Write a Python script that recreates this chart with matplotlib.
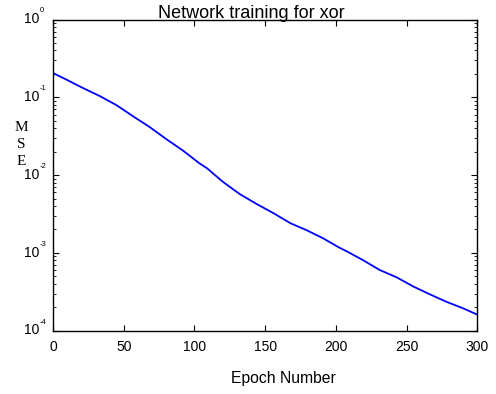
import matplotlib
matplotlib.use("Agg")
import matplotlib.pyplot as plt
from matplotlib.ticker import LogLocator, NullFormatter, FixedLocator
from matplotlib.transforms import offset_copy

plt.rcParams['font.family'] = ['Liberation Sans', 'DejaVu Sans']

# Data
epochs = [0, 10, 21, 33, 45, 57, 68, 80, 92, 103, 109, 120, 132, 144, 156,
          168, 179, 191, 202, 208, 219, 231, 243, 255, 266, 278, 290, 300]
mse = [0.205, 0.167, 0.132, 0.104, 0.079, 0.0564, 0.0419, 0.0291, 0.0206,
       0.0144, 0.0122, 0.00822, 0.00571, 0.00425, 0.00323, 0.0024, 0.00197,
       0.00154, 0.00118, 0.00104, 0.000811, 0.000603, 0.000485, 0.000368,
       0.000296, 0.000236, 0.000194, 0.000161]
xticks = [0, 50, 100, 150, 200, 250, 300]
yticks = [1e-4, 1e-3, 1e-2, 1e-1, 1e0]
ytick_exponents = ['-4', '-3', '-2', '-1', '0']
title = "Network training for xor"
xlabel = "Epoch Number"
ylabel_letters = ["M", "S", "E"]

W, H = 496, 394
fig = plt.figure(figsize=(W / 100, H / 100), dpi=100)
left, right, bottom, top = 53, 477.3, 330.7, 19.5
ax = fig.add_axes([left / W, 1 - bottom / H, (right - left) / W, (bottom - top) / H])

ax.plot(epochs, mse, color='#0000ff', linewidth=1.3)
ax.set_yscale('log')
ax.set_xlim(0, 300)
ax.set_ylim(1e-4, 1e0)
ax.set_xticks(xticks)
ax.set_xticklabels([str(t) for t in xticks])
ax.yaxis.set_major_locator(FixedLocator(yticks))
ax.set_yticklabels([''] * len(yticks))
ax.yaxis.set_minor_locator(LogLocator(base=10, subs=range(2, 10)))
ax.yaxis.set_minor_formatter(NullFormatter())

for s in ax.spines.values():
    s.set_linewidth(1.0)
    s.set_color('black')

ax.tick_params(axis='both', which='major', direction='in', length=4, width=0.8,
               top=True, right=True, labelsize=10, colors='black')
ax.tick_params(axis='y', which='minor', direction='in', length=2.2, width=0.6,
               left=True, right=True)
ax.tick_params(axis='x', which='major', pad=6.5)

# y tick labels: "10" with a small raised exponent
ytr = ax.get_yaxis_transform()
base_tr = offset_copy(ytr, fig=fig, x=-13.7, y=0.3, units='dots')
exp_tr = offset_copy(ytr, fig=fig, x=-13.6, y=5.2, units='dots')
for val, e in zip(yticks, ytick_exponents):
    ax.text(0, val, '10', transform=base_tr, ha='right', va='center',
            fontsize=10, clip_on=False)
    ax.text(0, val, e, transform=exp_tr, ha='left', va='bottom',
            fontsize=5.5, clip_on=False)

fig.text(251 / W, 1 - 18.5 / H, title, ha='center', va='baseline', fontsize=13)
fig.text(283 / W, 1 - 383 / H, xlabel, ha='center', va='baseline', fontsize=11.3)
for i, ch in enumerate(ylabel_letters):
    fig.text(21.5 / W, 1 - (131 + i * 17) / H, ch, ha='center', va='baseline',
             fontsize=11, family='Liberation Serif')

fig.savefig('out.png', dpi=100)
